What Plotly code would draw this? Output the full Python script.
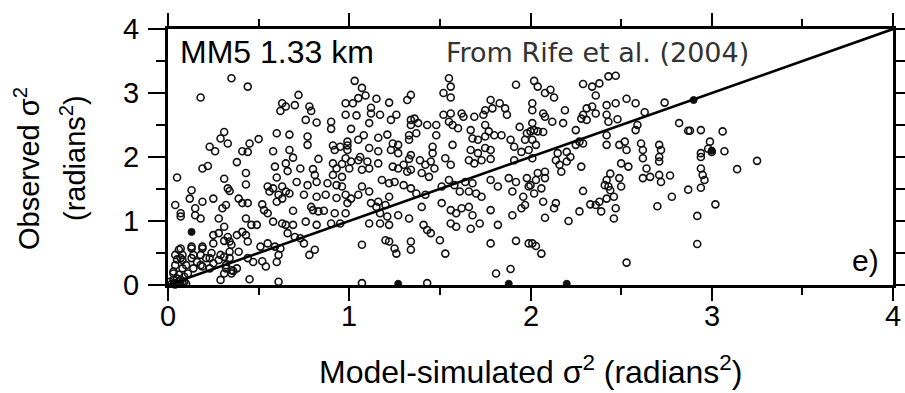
import plotly.graph_objects as go

# (model-simulated sigma^2, observed sigma^2) pairs, grouped by model band
band_0_to_1 = [
    (0.35,3.23),(0.44,3.10),(0.18,2.93),(0.72,2.97),(0.63,2.84),(0.65,2.79),(0.70,2.81),(0.62,2.72),
    (0.78,2.79),(0.79,2.72),(0.76,2.58),(0.82,2.54),(0.90,2.55),(0.90,2.44),(0.98,2.84),(0.98,2.66),
    (0.31,2.39),(0.29,2.29),(0.33,2.21),(0.23,2.16),(0.26,2.09),(0.50,2.28),(0.45,2.21),(0.41,2.09),
    (0.44,2.08),(0.60,2.37),(0.67,2.35),(0.58,2.09),(0.67,2.11),(0.77,2.32),(0.77,2.19),
    (0.91,2.18),(0.95,2.16),(0.99,2.18),(0.92,2.11),(0.99,2.24),(0.99,2.11),
    (0.38,1.92),(0.19,1.82),(0.22,1.86),(0.05,1.68),(0.43,1.75),(0.43,1.57),(0.31,1.66),
    (0.59,1.85),(0.60,1.68),(0.65,1.90),(0.66,1.78),(0.69,1.99),(0.73,1.82),(0.71,1.61),
    (0.80,1.81),(0.81,1.72),(0.82,1.61),(0.77,1.56),(0.83,1.97),(0.91,1.90),(0.93,1.82),(0.96,1.89),
    (0.88,1.59),(0.93,1.56),(0.96,1.54),(0.91,1.72),(0.96,1.69),(0.98,1.98),
    (0.33,1.51),(0.34,1.47),(0.13,1.48),(0.12,1.35),(0.55,1.54),(0.56,1.46),(0.58,1.51),(0.63,1.54),
    (0.65,1.46),(0.61,1.41),(0.60,1.30),(0.63,1.35),(0.67,1.43),(0.75,1.41),(0.82,1.38),(0.87,1.41),
    (0.93,1.36),(0.98,1.41),(0.25,1.35),(0.19,1.30),(0.39,1.35),(0.41,1.28),(0.44,1.28),
    (0.04,1.25),(0.07,1.12),(0.07,1.07),(0.30,1.20),(0.32,1.25),(0.15,1.20),(0.15,1.09),(0.18,1.04),
    (0.52,1.26),(0.53,1.17),(0.55,1.12),(0.69,1.16),(0.79,1.22),(0.80,1.17),(0.83,1.15),(0.86,1.16),
    (0.92,1.12),(0.98,1.12),(0.28,1.04),(0.43,1.04),(0.46,0.94),(0.49,0.94),(0.58,0.99),(0.63,0.96),
    (0.65,0.94),(0.69,0.94),(0.76,0.99),(0.82,0.94),(0.90,0.96),(0.95,0.96),(0.31,0.91),(0.28,0.81),
    (0.25,0.78),(0.38,0.78),(0.41,0.83),(0.43,0.78),(0.33,0.75),(0.34,0.68),(0.31,0.69),(0.35,0.63),
    (0.66,0.81),(0.70,0.75),(0.73,0.73),(0.75,0.65),(0.25,0.65),(0.19,0.60),(0.13,0.60),
    (0.44,0.68),(0.51,0.60),(0.55,0.65),(0.59,0.60),(0.62,0.57),(0.81,0.55),(0.78,0.47),
    (0.06,0.55),(0.04,0.47),(0.07,0.42),(0.08,0.47),(0.14,0.47),(0.18,0.47),(0.21,0.42),(0.24,0.50),
    (0.29,0.47),(0.34,0.52),(0.39,0.52),(0.44,0.42),(0.47,0.36),(0.52,0.37),(0.54,0.29),
    (0.61,0.47),(0.60,0.36),(0.04,0.31),(0.08,0.26),(0.14,0.26),(0.19,0.29),(0.23,0.26),(0.32,0.26),
    (0.36,0.22),(0.03,0.18),(0.05,0.10),(0.09,0.13),(0.29,0.08),(0.45,0.09),(0.61,0.05),
    (0.02,0.02),(0.04,0.01),(0.06,0.02),(0.08,0.04),(0.07,0.57),(0.05,0.40),(0.08,0.39),(0.10,0.31),
    (0.03,0.21),(0.06,0.16),(0.11,0.18),(0.13,0.42),(0.16,0.36),(0.18,0.31),(0.19,0.57),(0.13,0.57),
    (0.03,0.08),(0.07,0.08),(0.09,0.05),(0.04,0.03),(0.23,0.42),(0.25,0.34),(0.28,0.39),(0.31,0.44),
    (0.34,0.42),(0.32,0.31),(0.35,0.23),(0.38,0.26),(0.31,0.18),(0.35,0.18),(0.10,0.02),(0.01,0.05),
]

band_1_to_2 = [
    (1.03,3.19),(1.07,3.08),(1.09,2.96),(1.05,2.92),(1.02,2.84),(1.15,2.91),(1.22,2.85),
    (1.12,2.77),(1.12,2.68),(1.17,2.66),(1.04,2.65),(1.11,2.53),(1.01,2.44),(1.08,2.34),(1.05,2.27),
    (1.16,2.30),(1.21,2.35),(1.11,2.14),(1.16,2.09),(1.23,2.11),(1.24,2.21),(1.27,2.19),
    (1.32,2.89),(1.34,2.97),(1.26,2.66),(1.23,2.58),(1.34,2.58),(1.36,2.60),(1.38,2.53),(1.34,2.50),
    (1.33,2.34),(1.37,2.37),(1.33,2.27),(1.43,2.50),(1.48,2.50),(1.48,2.34),
    (1.55,3.23),(1.56,3.10),(1.52,3.00),(1.56,2.93),(1.52,2.66),(1.56,2.68),(1.55,2.55),(1.57,2.50),
    (1.60,2.45),(1.62,2.68),(1.63,2.63),(1.57,2.19),(1.46,2.16),(1.46,2.06),
    (1.67,2.42),(1.69,2.63),(1.74,2.66),(1.75,2.73),(1.78,2.89),(1.79,2.76),(1.83,2.84),(1.86,2.76),
    (1.87,2.66),(1.75,2.50),(1.77,2.40),(1.80,2.34),(1.75,2.32),(1.68,2.29),(1.71,2.27),
    (1.84,2.34),(1.89,2.27),(1.92,3.13),(1.94,2.47),(1.98,2.37),(2.00,2.40),(1.97,2.27),
    (1.67,2.11),(1.71,2.06),(1.75,2.14),(1.78,2.11),(1.91,2.16),(1.95,2.08),(1.99,2.11),
    (1.27,2.06),(1.34,2.03),
    (1.01,1.93),(1.05,1.95),(1.07,1.80),(1.10,1.93),(1.11,1.82),(1.16,1.90),(1.00,1.82),(1.06,2.00),
    (1.33,1.97),(1.24,1.85),(1.27,1.82),(1.30,1.88),(1.32,1.77),(1.34,1.80),
    (1.39,1.95),(1.42,1.88),(1.45,1.93),(1.47,1.82),(1.40,1.75),(1.44,1.69),(1.53,1.98),(1.56,1.88),
    (1.66,1.95),(1.69,1.90),(1.73,1.95),(1.78,1.97),(1.91,1.95),
    (1.18,1.64),(1.22,1.59),(1.25,1.61),(1.30,1.56),(1.34,1.51),(1.07,1.54),(1.05,1.41),(1.01,1.35),
    (0.99,1.28),(1.11,1.46),(1.37,1.43),(1.42,1.41),(1.40,1.22),(1.51,1.54),(1.55,1.64),(1.58,1.56),
    (1.61,1.46),(1.64,1.61),(1.68,1.59),(1.66,1.46),(1.70,1.43),(1.73,1.38),(1.78,1.64),(1.82,1.54),
    (1.88,1.67),(1.92,1.61),(1.98,1.67),(1.90,1.46),(1.96,1.38),(1.99,1.54),
    (1.16,1.30),(1.22,1.38),(1.20,1.25),(1.12,1.28),(1.15,1.22),(1.17,1.12),(1.21,1.07),
    (1.11,0.96),(1.17,0.96),(1.22,0.94),(1.27,1.09),(1.33,1.04),(1.41,0.94),(1.43,0.86),(1.45,0.81),
    (1.51,1.28),(1.56,1.17),(1.59,1.12),(1.62,1.20),(1.66,1.22),(1.68,1.09),
    (1.56,0.96),(1.59,0.91),(1.67,0.88),(1.72,0.96),(1.78,1.17),(1.82,0.94),
    (1.90,1.09),(1.95,1.20),(1.97,1.25),(1.07,0.63),
    (1.20,0.70),(1.22,0.68),(1.25,0.57),(1.26,0.49),(1.34,0.55),(1.34,0.68),(1.50,0.70),(1.53,0.49),
    (1.78,0.65),(1.92,0.69),(1.99,0.65),(1.81,0.18),(1.89,0.25),(1.07,0.03),(1.43,0.03),
]

band_2_up = [
    (2.02,3.19),(2.04,3.10),(2.08,3.00),(2.13,2.93),(2.11,3.05),(2.29,3.14),(2.34,3.10),(2.38,3.15),
    (2.43,3.26),(2.47,3.27),(2.36,2.96),(2.01,2.84),(2.01,2.73),(2.07,2.68),(2.08,2.63),(2.12,2.55),
    (2.19,2.73),(2.18,2.53),(2.29,2.66),(2.31,2.76),(2.34,2.79),(2.36,2.68),(2.31,2.58),(2.28,2.60),
    (2.42,2.81),(2.47,2.84),(2.53,2.91),(2.58,2.84),(2.63,2.70),(2.42,2.66),(2.43,2.55),(2.48,2.59),
    (2.74,2.85),(2.59,2.50),(2.58,2.42),(2.01,2.53),(2.02,2.42),(2.04,2.40),(2.07,2.39),(2.01,2.27),
    (2.03,2.19),(2.25,2.42),(2.25,2.19),(2.27,2.24),(2.29,2.21),(2.42,2.34),(2.42,2.19),(2.49,2.19),
    (2.52,2.24),(2.53,2.11),(2.61,2.21),(2.62,2.11),(2.71,2.19),(2.72,2.11),(2.82,2.53),(2.87,2.41),
    (2.94,2.42),(2.99,2.24),(2.98,2.13),(2.94,2.06),(2.15,2.06),(2.20,2.08),(2.22,2.00),
    (3.06,2.40),(2.88,2.41),(3.00,2.08),(3.07,2.09),(3.25,1.94),(3.14,1.81),
    (2.01,1.98),(2.04,1.75),(2.08,1.77),(2.08,1.67),(2.03,1.64),(2.14,1.95),(2.16,1.88),(2.17,1.77),
    (2.20,1.93),(2.00,1.56),(2.02,1.43),(2.06,1.51),(2.07,1.30),(2.13,1.20),(2.14,1.28),(2.08,1.05),
    (2.21,1.00),(2.28,1.85),(2.29,1.47),(2.27,1.15),(2.33,1.26),(2.36,1.25),(2.38,1.30),(2.39,1.15),
    (2.42,1.35),(2.44,1.48),(2.41,1.56),(2.42,1.64),(2.44,1.74),(2.43,1.54),(2.46,1.38),(2.47,1.20),
    (2.46,1.04),(2.49,1.67),(2.50,1.54),(2.50,1.90),(2.54,1.85),(2.62,1.98),(2.64,1.82),(2.62,1.67),
    (2.66,1.69),(2.71,1.72),(2.72,1.61),(2.71,2.00),(2.71,1.93),(2.77,1.71),(2.78,1.38),(2.70,1.23),
    (2.87,1.49),(2.94,1.52),(2.94,1.82),(2.95,1.72),(2.96,1.64),(2.94,2.00),(2.92,1.08),(2.92,0.64),
    (3.02,1.26),(2.01,0.65),(2.03,0.61),(2.06,0.49),(2.53,0.35),
]

# overlapping (dark) points
dense_points = [(0.13,0.83),(2.90,2.89),(3.00,2.10),(1.27,0.02),(1.88,0.02),(2.20,0.02),(0.03,0.01),(0.07,0.02)]

axis_range = [0, 4]
tick_values = [0, 1, 2, 3, 4]
tick_labels = ["0", "1", "2", "3", "4"]
one_to_one = [0, 4]

all_points = band_0_to_1 + band_1_to_2 + band_2_up
model_sigma2 = [p[0] for p in all_points]
observed_sigma2 = [p[1] for p in all_points]

FONT = "Liberation Sans, Arial, Helvetica, sans-serif"
INK = "#111111"

fig = go.Figure()
fig.add_trace(go.Scatter(
    x=model_sigma2, y=observed_sigma2, mode="markers",
    marker=dict(symbol="circle-open", size=7, color=INK, line=dict(width=1.6, color=INK)),
    cliponaxis=False, showlegend=False, hoverinfo="skip"))
fig.add_trace(go.Scatter(
    x=[p[0] for p in dense_points], y=[p[1] for p in dense_points], mode="markers",
    marker=dict(symbol="circle", size=7, color=INK, line=dict(width=1, color=INK)),
    cliponaxis=False, showlegend=False, hoverinfo="skip"))
fig.add_trace(go.Scatter(
    x=one_to_one, y=one_to_one, mode="lines",
    line=dict(color="black", width=2.6), showlegend=False, hoverinfo="skip"))

axis_common = dict(
    range=axis_range, tickvals=tick_values, showgrid=False, zeroline=False, automargin=False,
    showline=True, linewidth=3, linecolor="black", mirror="allticks",
    ticks="outside", tickwidth=2, tickcolor="black", showticklabels=False,
)
fig.update_xaxes(**axis_common, ticklen=13,
                 minor=dict(dtick=0.5, ticks="outside", ticklen=7, tickwidth=2, tickcolor="black"))
fig.update_yaxes(**axis_common, ticklen=17,
                 minor=dict(dtick=0.5, ticks="outside", ticklen=9, tickwidth=2, tickcolor="black"))

tick_font = dict(family=FONT, size=29, color="black")
ann_font = dict(family=FONT, size=29, color="black")
annotations = []
# tick labels placed at the axis tick values
for v, lab in zip(tick_values, tick_labels):
    annotations.append(dict(text=lab, x=v, xref="x", y=0, yref="paper", xanchor="center",
                            yanchor="middle", yshift=-31, showarrow=False, font=tick_font))
    annotations.append(dict(text=lab, x=0, xref="paper", y=v, yref="y", xanchor="center",
                            yanchor="middle", xshift=-37, showarrow=False, font=tick_font))

annotations += [
    dict(text="Observed σ<sup>2</sup>", x=0, y=0.5, xref="paper", yref="paper",
         textangle=-90, xanchor="center", yanchor="middle", xshift=-141, yshift=-12,
         showarrow=False, font=ann_font),
    dict(text="(radians<sup>2</sup>)", x=0, y=0.5, xref="paper", yref="paper",
         textangle=-90, xanchor="center", yanchor="middle", xshift=-95, yshift=-1,
         showarrow=False, font=ann_font),
    dict(text="Model-simulated σ<sup>2</sup> (radians<sup>2</sup>)", x=0.5, y=0, xref="paper", yref="paper",
         xanchor="center", yanchor="middle", yshift=-85, showarrow=False,
         font=dict(family=FONT, size=32, color="black")),
    dict(text="MM5 1.33 km", x=0, y=1, xref="paper", yref="paper", xanchor="left", yanchor="middle",
         xshift=10, yshift=-23, showarrow=False, font=dict(family=FONT, size=32, color="black")),
    dict(text="From Rife et al. (2004)", x=0, y=1, xref="paper", yref="paper", xanchor="left",
         yanchor="middle", xshift=276, yshift=-23, showarrow=False,
         font=dict(family="DejaVu Sans, Verdana, sans-serif", size=27, color="#333333")),
    dict(text="e)", x=1, y=0, xref="paper", yref="paper", xanchor="right", yanchor="middle",
         xshift=-12, yshift=25, showarrow=False, font=dict(family=FONT, size=30, color="black")),
]

fig.update_layout(
    width=905, height=393, margin=dict(l=168, r=12, t=29, b=108),
    paper_bgcolor="white", plot_bgcolor="white", annotations=annotations,
)

fig.write_html("out.html", config={"displayModeBar": False},
               post_script="document.body.style.margin='0px';")
